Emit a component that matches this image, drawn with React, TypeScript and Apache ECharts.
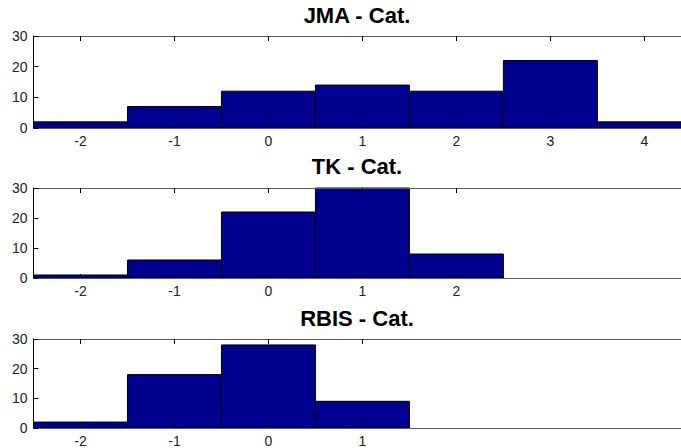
import React, { useEffect, useRef } from "react";
import * as echarts from "echarts";

// Histogram bin centres and counts for each subplot
const jmaBins = [-2, -1, 0, 1, 2, 3, 4];
const jmaCounts = [2, 7, 12, 14, 12, 22, 2];
const tkBins = [-2, -1, 0, 1, 2];
const tkCounts = [1, 6, 22, 30, 8];
const rbisBins = [-2, -1, 0, 1];
const rbisCounts = [2, 18, 28, 9];

const titles = ["JMA - Cat.", "TK - Cat.", "RBIS - Cat."];
const yTicks = [0, 10, 20, 30];

const panels = [
  { title: titles[0], bins: jmaBins, counts: jmaCounts, top: 36, height: 92, titleY: 15 },
  { title: titles[1], bins: tkBins, counts: tkCounts, top: 188, height: 90, titleY: 166.5 },
  { title: titles[2], bins: rbisBins, counts: rbisCounts, top: 339, height: 92, titleY: 318 },
];

const X_MIN = -2.5;
const X_MAX = 4.39;
const BAR_FILL = "#00008f";
const FONT = '"Liberation Sans", Arial, sans-serif';

export default function App() {
  const ref = useRef<HTMLDivElement>(null);

  useEffect(() => {
    if (!ref.current) return;
    const chart = echarts.init(ref.current, undefined, { renderer: "svg" });

    const grids: any[] = [];
    const xAxes: any[] = [];
    const yAxes: any[] = [];
    const series: any[] = [];
    const graphics: any[] = [];

    panels.forEach((p, i) => {
      grids.push({ left: 33.5, right: 0, top: p.top, height: p.height });

      // bottom axis with labels; drawn above the bars like a MATLAB box
      xAxes.push({
        type: "value",
        gridIndex: i,
        position: "bottom",
        min: X_MIN,
        max: X_MAX,
        z: 10,
        axisLine: { show: true, onZero: false, lineStyle: { color: "#5a5a5a", width: 1 } },
        axisTick: { show: true, inside: true, length: 4, customValues: p.bins, lineStyle: { color: "#000", width: 1 } },
        axisLabel: {
          show: true,
          customValues: p.bins,
          margin: 6,
          fontSize: 14,
          fontFamily: FONT,
          color: "#222",
        },
        splitLine: { show: false },
      });
      // top border of the box with ticks
      xAxes.push({
        type: "value",
        gridIndex: i,
        position: "top",
        min: X_MIN,
        max: X_MAX,
        z: 10,
        axisLine: { show: true, onZero: false, lineStyle: { color: "#5a5a5a", width: 1 } },
        axisTick: { show: true, inside: true, length: 5, customValues: p.bins, lineStyle: { color: "#000", width: 1 } },
        axisLabel: { show: false },
        splitLine: { show: false },
      });

      yAxes.push({
        type: "value",
        gridIndex: i,
        min: 0,
        max: 30,
        interval: 10,
        z: 10,
        axisLine: { show: true, onZero: false, lineStyle: { color: "#000", width: 1 } },
        axisTick: { show: true, inside: true, length: 5, customValues: yTicks, lineStyle: { color: "#000", width: 1 } },
        axisLabel: {
          show: true,
          margin: 6,
          fontSize: 14,
          fontFamily: FONT,
          color: "#222",
        },
        splitLine: { show: false },
      });

      series.push({
        type: "custom",
        xAxisIndex: i * 2,
        yAxisIndex: i,
        z: 2,
        data: p.bins.map((b, k) => [b, p.counts[k]]),
        renderItem: (params: any, api: any) => {
          const x = api.value(0);
          const v = api.value(1);
          const tl = api.coord([x - 0.5, v]);
          const br = api.coord([x + 0.5, 0]);
          return {
            type: "rect",
            shape: { x: tl[0], y: tl[1], width: br[0] - tl[0], height: br[1] - tl[1] },
            style: { fill: BAR_FILL, stroke: "#000", lineWidth: 1 },
          };
        },
      });

      graphics.push({
        type: "text",
        x: 357,
        y: p.titleY,
        style: {
          text: p.title,
          font: `bold 22px ${FONT}`,
          fill: "#000",
          textAlign: "center",
          textVerticalAlign: "middle",
        },
      });
    });

    chart.setOption({
      animation: false,
      backgroundColor: "#fff",
      grid: grids,
      xAxis: xAxes,
      yAxis: yAxes,
      series,
      graphic: graphics,
    });

    return () => chart.dispose();
  }, []);

  return (
    <div
      ref={ref}
      style={{ position: "fixed", left: 0, top: 0, width: 681, height: 448, background: "#fff" }}
    />
  );
}
